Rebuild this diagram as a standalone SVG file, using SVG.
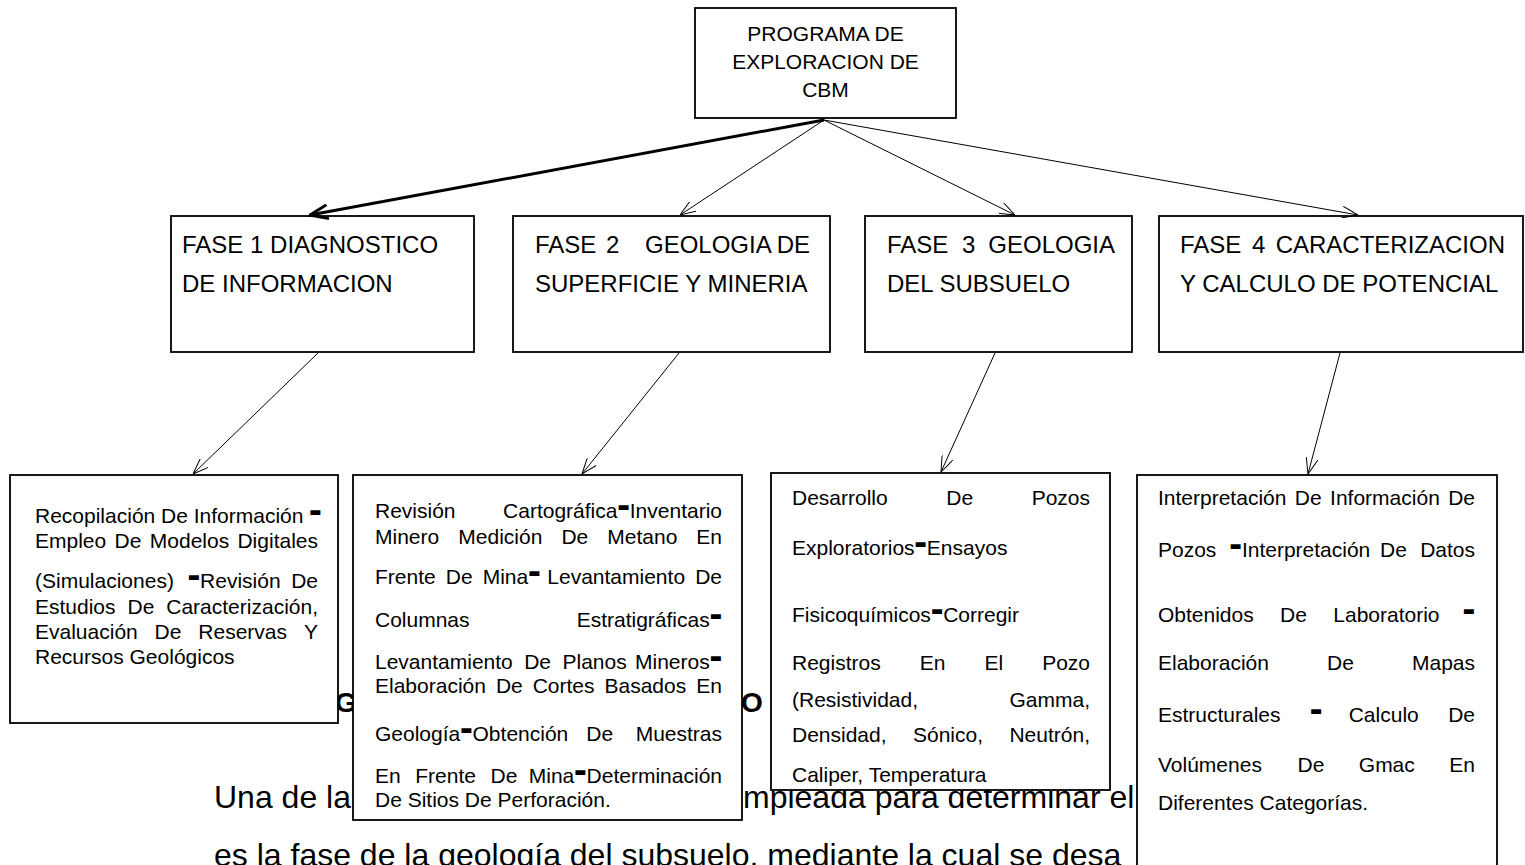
<svg xmlns="http://www.w3.org/2000/svg" width="1525" height="865" viewBox="0 0 1525 865">
<style>
.t{font-family:"Liberation Sans",Arial,sans-serif;fill:#000}
.top{font-size:21px;text-anchor:middle}
.ph{font-size:24px}
.bt{font-size:21px}
.e{text-anchor:end}
.d{font-family:"DejaVu Sans",sans-serif;font-size:13px}
.par{font-size:32px}
.hd{font-size:28px;font-weight:bold}
.box{fill:#fff;stroke:#000;stroke-width:1.8}
.cn{stroke:#000;stroke-width:1;fill:none}
.ck{stroke:#000;stroke-width:3;fill:none}
</style>
<defs>
<marker id="ah" viewBox="0 0 16 12" refX="16" refY="6" markerWidth="16" markerHeight="12" markerUnits="userSpaceOnUse" orient="auto"><path d="M0,0 L16,6 L0,12" fill="none" stroke="#000" stroke-width="1"/></marker>
<marker id="ahk" viewBox="0 0 20 16" refX="19" refY="8" markerWidth="20" markerHeight="16" markerUnits="userSpaceOnUse" orient="auto"><path d="M1,1 L19,8 L1,15" fill="none" stroke="#000" stroke-width="3"/></marker>
</defs>
<rect width="1525" height="865" fill="#fff"/>
<g id="background-text">
<text class="t par" x="214" y="808">Una de la</text>
<text class="t par" x="743" y="808">mpleada para determinar el</text>
<text class="t par" x="214" y="866">es la fase de la geología del subsuelo, mediante la cual se desa</text>
<text class="t hd" x="335" y="712">G</text>
<text class="t hd" x="741" y="712">O</text>
</g>
<g id="n-programa">
<rect class="box" x="695" y="8" width="261" height="110"/>
<text class="t top" x="825.5" y="41">PROGRAMA DE</text>
<text class="t top" x="825.5" y="69">EXPLORACION DE</text>
<text class="t top" x="825.5" y="97">CBM</text>
</g>
<g id="n-fase1">
<rect class="box" x="171" y="216" width="303" height="136"/>
<text class="t ph" x="182" y="253">FASE 1 DIAGNOSTICO</text>
<text class="t ph" x="182" y="292">DE INFORMACION</text>
</g>
<g id="n-fase2">
<rect class="box" x="513" y="216" width="317" height="136"/>
<text class="t ph" y="253"><tspan x="535">FASE</tspan><tspan x="606">2</tspan><tspan x="645">GEOLOGIA</tspan></text>
<text class="t ph e" x="810" y="253">DE</text>
<text class="t ph" x="535" y="292">SUPERFICIE Y MINERIA</text>
</g>
<g id="n-fase3">
<rect class="box" x="865" y="216" width="267" height="136"/>
<text class="t ph" y="253"><tspan x="887">FASE</tspan><tspan x="962">3</tspan></text>
<text class="t ph e" x="1115" y="253">GEOLOGIA</text>
<text class="t ph" x="887" y="292">DEL SUBSUELO</text>
</g>
<g id="n-fase4">
<rect class="box" x="1159" y="216" width="364" height="136"/>
<text class="t ph" y="253"><tspan x="1180">FASE</tspan><tspan x="1252">4</tspan></text>
<text class="t ph e" x="1505" y="253">CARACTERIZACION</text>
<text class="t ph" x="1180" y="292">Y CALCULO DE POTENCIAL</text>
</g>
<g id="n-b1">
<rect class="box" x="10" y="475" width="328" height="248"/>
<text class="t bt" x="35" y="523">Recopilación De Información <tspan class="d" dy="-7">▬</tspan></text>
<text class="t bt" y="548"><tspan x="35">Empleo</tspan><tspan x="114.6">De</tspan><tspan x="149.8">Modelos</tspan></text>
<text class="t bt e" x="318" y="548">Digitales</text>
<text class="t bt" y="588"><tspan x="35">(Simulaciones)</tspan><tspan x="187.8" class="d" dy="-7">▬</tspan><tspan dy="7">Revisión</tspan></text>
<text class="t bt e" x="318" y="588">De</text>
<text class="t bt" y="614"><tspan x="35">Estudios</tspan><tspan x="127.5">De</tspan></text>
<text class="t bt e" x="318" y="614">Caracterización,</text>
<text class="t bt" y="639"><tspan x="35">Evaluación</tspan><tspan x="154.6">De</tspan><tspan x="198.3">Reservas</tspan></text>
<text class="t bt e" x="318" y="639">Y</text>
<text class="t bt" x="35" y="664">Recursos Geológicos</text>
</g>
<g id="n-b2">
<rect class="box" x="353" y="475" width="389" height="345"/>
<text class="t bt" x="375" y="518">Revisión</text>
<text class="t bt e" x="722" y="518">Cartográfica<tspan class="d" dy="-7">▬</tspan><tspan dy="7">Inventario</tspan></text>
<text class="t bt" y="544"><tspan x="375">Minero</tspan><tspan x="458.3">Medición</tspan><tspan x="561.4">De</tspan><tspan x="607.3">Metano</tspan></text>
<text class="t bt e" x="722" y="544">En</text>
<text class="t bt" y="584"><tspan x="375">Frente</tspan><tspan x="445.8">De</tspan><tspan x="482.7">Mina</tspan><tspan class="d" dy="-7">▬</tspan><tspan x="547.3" dy="7">Levantamiento</tspan></text>
<text class="t bt e" x="722" y="584">De</text>
<text class="t bt" x="375" y="627">Columnas</text>
<text class="t bt e" x="722" y="627">Estratigráficas<tspan class="d" dy="-7">▬</tspan></text>
<text class="t bt" y="669"><tspan x="375">Levantamiento</tspan><tspan x="524.2">De</tspan><tspan x="562.5">Planos</tspan></text>
<text class="t bt e" x="722" y="669">Mineros<tspan class="d" dy="-7">▬</tspan></text>
<text class="t bt" y="693"><tspan x="375">Elaboración</tspan><tspan x="495.9">De</tspan><tspan x="532.7">Cortes</tspan><tspan x="604.5">Basados</tspan></text>
<text class="t bt e" x="722" y="693">En</text>
<text class="t bt" y="741"><tspan x="375">Geología</tspan><tspan class="d" dy="-7">▬</tspan><tspan dy="7">Obtención</tspan><tspan x="586.3">De</tspan></text>
<text class="t bt e" x="722" y="741">Muestras</text>
<text class="t bt" y="783"><tspan x="375">En</tspan><tspan x="415.3">Frente</tspan><tspan x="490.6">De</tspan></text>
<text class="t bt e" x="722" y="783">Mina<tspan class="d" dy="-7">▬</tspan><tspan dy="7">Determinación</tspan></text>
<text class="t bt" x="375" y="807">De Sitios De Perforación.</text>
</g>
<g id="n-b3">
<rect class="box" x="771" y="473" width="339" height="317"/>
<text class="t bt" y="505"><tspan x="792">Desarrollo</tspan><tspan x="946.3">De</tspan></text>
<text class="t bt e" x="1090" y="505">Pozos</text>
<text class="t bt" x="792" y="555">Exploratorios<tspan class="d" dy="-7">▬</tspan><tspan dy="7">Ensayos</tspan></text>
<text class="t bt" x="792" y="622">Fisicoquímicos<tspan class="d" dy="-7">▬</tspan><tspan dy="7">Corregir</tspan></text>
<text class="t bt" y="670"><tspan x="792">Registros</tspan><tspan x="919.7">En</tspan><tspan x="984.4">El</tspan></text>
<text class="t bt e" x="1090" y="670">Pozo</text>
<text class="t bt" x="792" y="707">(Resistividad,</text>
<text class="t bt e" x="1090" y="707">Gamma,</text>
<text class="t bt" y="742"><tspan x="792">Densidad,</tspan><tspan x="913">Sónico,</tspan></text>
<text class="t bt e" x="1090" y="742">Neutrón,</text>
<text class="t bt" x="792" y="782">Caliper, Temperatura</text>
</g>
<g id="n-b4">
<rect class="box" x="1137" y="475" width="360" height="400"/>
<text class="t bt" y="505"><tspan x="1158">Interpretación</tspan><tspan x="1294.8">De</tspan><tspan x="1330.1">Información</tspan></text>
<text class="t bt e" x="1475" y="505">De</text>
<text class="t bt" y="557"><tspan x="1158">Pozos</tspan><tspan x="1229.6" class="d" dy="-7">▬</tspan><tspan dy="7">Interpretación</tspan><tspan x="1380.1">De</tspan></text>
<text class="t bt e" x="1475" y="557">Datos</text>
<text class="t bt" y="622"><tspan x="1158">Obtenidos</tspan><tspan x="1280.1">De</tspan><tspan x="1333.3">Laboratorio</tspan></text>
<text class="t d e" x="1475" y="615">▬</text>
<text class="t bt" y="670"><tspan x="1158">Elaboración</tspan><tspan x="1327.1">De</tspan></text>
<text class="t bt e" x="1475" y="670">Mapas</text>
<text class="t bt" y="722"><tspan x="1158">Estructurales</tspan><tspan x="1310.1" class="d" dy="-7">▬</tspan><tspan x="1348.7" dy="7">Calculo</tspan></text>
<text class="t bt e" x="1475" y="722">De</text>
<text class="t bt" y="772"><tspan x="1158">Volúmenes</tspan><tspan x="1297.5">De</tspan><tspan x="1358.8">Gmac</tspan></text>
<text class="t bt e" x="1475" y="772">En</text>
<text class="t bt" x="1158" y="810">Diferentes Categorías.</text>
</g>
<g id="connectors">
<path class="ck" d="M824,120 L310,215" marker-end="url(#ahk)"/>
<path class="cn" d="M824,120 L680,215" marker-end="url(#ah)"/>
<path class="cn" d="M824,120 L1015,215" marker-end="url(#ah)"/>
<path class="cn" d="M824,120 L1358,215" marker-end="url(#ah)"/>
<path class="cn" d="M318,353 L193,474" marker-end="url(#ah)"/>
<path class="cn" d="M679,353 L582,474" marker-end="url(#ah)"/>
<path class="cn" d="M995,353 L941,472" marker-end="url(#ah)"/>
<path class="cn" d="M1340,353 L1308,474" marker-end="url(#ah)"/>
</g>
</svg>
